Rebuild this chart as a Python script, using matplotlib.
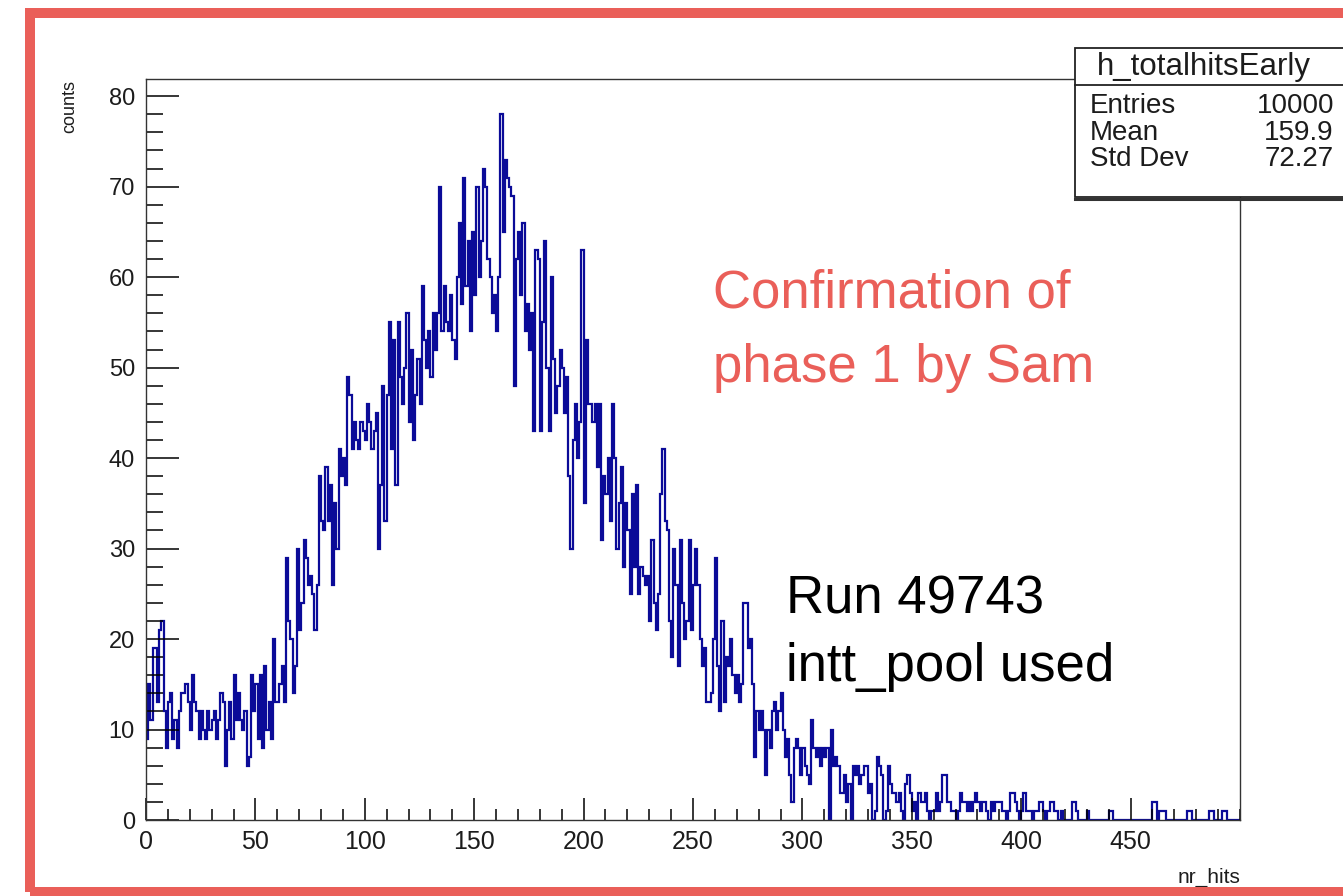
import numpy as np
import matplotlib
matplotlib.use('Agg')
import matplotlib.pyplot as plt
from matplotlib.patches import Rectangle
from matplotlib.lines import Line2D
from matplotlib.ticker import MultipleLocator

plt.rcParams['font.family'] = ['Liberation Sans', 'DejaVu Sans']

# h_totalhitsEarly: entries per nr_hits bin (bin width 1, range 0-500)
hits_000_099 = [
    9, 15, 11, 19, 19, 13, 21, 22, 12, 8,
    13, 14, 9, 11, 8, 12, 14, 14, 15, 13,
    10, 16, 13, 12, 9, 12, 10, 9, 12, 10,
    11, 12, 9, 11, 14, 13, 6, 10, 13, 9,
    16, 11, 14, 11, 10, 12, 6, 7, 16, 12,
    15, 9, 16, 8, 17, 10, 13, 9, 20, 13,
    13, 15, 17, 13, 29, 22, 20, 14, 17, 30,
    21, 24, 31, 29, 26, 27, 25, 21, 26, 38,
    33, 32, 39, 33, 37, 26, 35, 30, 41, 38,
    40, 37, 49, 47, 41, 44, 42, 41, 44, 43,
]
hits_100_199 = [
    42, 46, 44, 41, 43, 45, 30, 37, 48, 33,
    47, 55, 41, 53, 37, 55, 49, 46, 50, 56,
    44, 52, 42, 47, 51, 46, 59, 53, 50, 54,
    49, 56, 52, 56, 70, 54, 59, 55, 54, 58,
    53, 51, 60, 66, 57, 71, 59, 64, 54, 65,
    58, 70, 60, 64, 72, 70, 62, 60, 56, 58,
    54, 60, 78, 65, 73, 71, 70, 69, 48, 62,
    65, 58, 66, 54, 57, 52, 56, 43, 63, 62,
    43, 55, 64, 50, 43, 60, 51, 45, 48, 52,
    50, 45, 49, 38, 30, 42, 46, 40, 44, 63,
]
hits_200_299 = [
    35, 53, 46, 46, 44, 46, 39, 46, 31, 38,
    36, 40, 33, 46, 40, 30, 35, 39, 28, 35,
    32, 25, 36, 28, 37, 25, 28, 27, 26, 27,
    22, 31, 24, 21, 25, 36, 41, 33, 32, 22,
    18, 30, 26, 17, 31, 24, 20, 22, 31, 21,
    26, 30, 26, 20, 17, 19, 13, 13, 14, 20,
    29, 17, 12, 22, 13, 18, 17, 20, 16, 14,
    16, 13, 15, 24, 24, 19, 20, 15, 7, 12,
    10, 12, 10, 5, 10, 8, 12, 13, 10, 12,
    14, 10, 7, 9, 5, 2, 8, 9, 8, 5,
]
hits_300_399 = [
    8, 6, 5, 4, 11, 8, 7, 8, 6, 8,
    7, 8, 0, 10, 6, 7, 6, 3, 3, 5,
    2, 4, 0, 6, 5, 6, 4, 5, 6, 6,
    3, 4, 0, 1, 7, 6, 5, 0, 1, 6,
    4, 3, 3, 2, 3, 1, 0, 4, 5, 3,
    1, 2, 0, 3, 2, 2, 3, 1, 0, 1,
    1, 3, 1, 2, 5, 5, 2, 2, 1, 1,
    0, 1, 3, 2, 2, 1, 2, 1, 2, 3,
    2, 1, 2, 2, 1, 0, 2, 1, 2, 2,
    2, 1, 1, 0, 1, 3, 3, 2, 1, 0,
]
hits_400_499 = [
    1, 3, 1, 1, 1, 0, 1, 1, 2, 2,
    1, 0, 1, 2, 2, 1, 1, 0, 1, 0,
    0, 0, 0, 2, 2, 1, 0, 0, 0, 0,
    1, 0, 0, 0, 0, 0, 0, 0, 0, 0,
    1, 1, 0, 0, 0, 0, 0, 0, 0, 0,
    0, 0, 0, 0, 0, 0, 0, 0, 0, 0,
    2, 2, 0, 1, 1, 1, 0, 0, 0, 0,
    0, 0, 0, 0, 0, 0, 1, 1, 0, 0,
    0, 0, 0, 0, 0, 0, 1, 1, 0, 0,
    0, 0, 1, 1, 0, 0, 0, 0, 0, 0,
]

x_ticks = [0, 50, 100, 150, 200, 250, 300, 350, 400, 450]
y_ticks = [0, 10, 20, 30, 40, 50, 60, 70, 80]

stats_title = 'h_totalhitsEarly'
stats_names = ['Entries', 'Mean', 'Std Dev']
stats_values = ['10000', '159.9', '72.27']

counts = np.array(hits_000_099 + hits_100_199 + hits_200_299
                  + hits_300_399 + hits_400_499)
edges = np.arange(0, len(counts) + 1)

W, H = 1343, 896
fig = plt.figure(figsize=(W / 100, H / 100), dpi=100)


def fx(px):
    return px / W


def fy(py):
    return 1 - py / H


salmon = '#EA5F59'
ink = '#1c1c1c'
narrow = ['Liberation Sans Narrow', 'Liberation Sans']

ax = fig.add_axes([fx(146), fy(820), fx(1240) - fx(146), fy(79) - fy(820)])
ax.stairs(counts, edges, color='#0b0b98', lw=1.6, baseline=None)
ax.set_xlim(0, 500)
ax.set_ylim(0, 81.9)

ax.xaxis.set_minor_locator(MultipleLocator(10))
ax.yaxis.set_minor_locator(MultipleLocator(2))
ax.set_xticks(x_ticks, [str(t) for t in x_ticks], fontsize=18, color=ink, family=narrow)
ax.set_yticks(y_ticks, [str(t) for t in y_ticks], fontsize=17, color=ink)
ax.tick_params(axis='x', which='major', direction='in', length=16, width=1.1, pad=7)
ax.tick_params(axis='x', which='minor', direction='in', length=8, width=1.1)
ax.tick_params(axis='y', which='major', direction='in', length=24, width=1.1, pad=8)
ax.tick_params(axis='y', which='minor', direction='in', length=12, width=1.1)
for s in ax.spines.values():
    s.set_linewidth(1.0)
    s.set_color('#333333')

fig.text(fx(70), fy(80), 'counts', rotation=90, ha='center', va='top',
         fontsize=13, color=ink, family=narrow)
fig.text(fx(1240), fy(877), 'nr_hits', ha='right', va='center',
         fontsize=15, color=ink, family=narrow)

# stats box
bx0, bx1, by0, by1 = 1075, 1348, 48, 197
fig.add_artist(Rectangle((fx(bx0), fy(by1)), fx(bx1) - fx(bx0), fy(by0) - fy(by1),
                         transform=fig.transFigure, fc='white', ec='#222222',
                         lw=1.3, zorder=5))
fig.add_artist(Line2D([fx(bx0), fx(bx1)], [fy(199), fy(199)], transform=fig.transFigure,
                      color='#333333', lw=2.2, zorder=5))
fig.add_artist(Line2D([fx(bx0), fx(bx1)], [fy(85), fy(85)], transform=fig.transFigure,
                      color='#222222', lw=1.3, zorder=6))
fig.text(fx(1204), fy(67), stats_title, ha='center', va='center', fontsize=22.5,
         color=ink, zorder=7)
for i, (name, val) in enumerate(zip(stats_names, stats_values)):
    yy = 106 + i * 26.5
    fig.text(fx(1090), fy(yy), name, ha='left', va='center', fontsize=20,
             color=ink, zorder=7)
    fig.text(fx(1334), fy(yy), val, ha='right', va='center', fontsize=20,
             color=ink, zorder=7)

# annotations
fig.text(fx(713), fy(308), 'Confirmation of', fontsize=38, color=salmon, va='baseline')
fig.text(fx(713), fy(382), 'phase 1 by Sam', fontsize=38, color=salmon, va='baseline')
fig.text(fx(786), fy(613), 'Run 49743', fontsize=38, color='black', va='baseline')
fig.text(fx(786), fy(681), 'intt_pool used', fontsize=38, color='black', va='baseline')

# slide frame
fig.add_artist(Rectangle((fx(30), fy(892)), fx(1400) - fx(30), fy(13) - fy(892),
                         transform=fig.transFigure, fill=False, ec=salmon,
                         lw=7.2, clip_on=False, zorder=10))

fig.savefig('out.png', dpi=100)
